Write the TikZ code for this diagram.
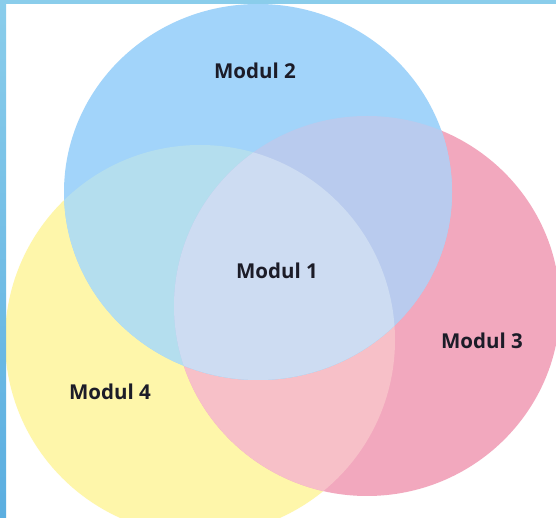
\documentclass[tikz,border=0pt]{standalone}
\usepackage{fontspec}
\setmainfont{Open Sans}
\definecolor{cblue}{HTML}{A2D4FA}
\definecolor{cyellow}{HTML}{FEF6AA}
\definecolor{cpink}{HTML}{F2A8BE}
\definecolor{cby}{HTML}{B4DEEE}
\definecolor{cbp}{HTML}{B9CBEE}
\definecolor{cyp}{HTML}{F7C0C8}
\definecolor{call}{HTML}{CDDCF2}
\definecolor{ctext}{HTML}{1C1C28}
\definecolor{bordtop}{HTML}{8ACDEB}
\definecolor{bordbot}{HTML}{5BAEE0}
\tikzset{
  lbl/.style={font=\fontsize{20.5}{22}\selectfont\bfseries, text=ctext, inner sep=0pt},
}
\def\blueE{(258,326) ellipse [x radius=194, y radius=188]}
\def\pinkE{(367,212) ellipse [x radius=193, y radius=190]}
\def\yellowE{(200,178) ellipse [x radius=195, y radius=195]}
\begin{document}
\begin{tikzpicture}[x=1pt,y=1pt]
\useasboundingbox (0,0) rectangle (556,518);
\begin{scope}
\clip (0,0) rectangle (556,518);
\fill[white] (0,0) rectangle (556,518);
% single circles
\fill[cyellow] \yellowE;
\fill[cpink] \pinkE;
\begin{scope}\clip \yellowE; \fill[cyp] \pinkE; \end{scope}
\fill[cblue] \blueE;
\begin{scope}\clip \blueE; \fill[cby] \yellowE; \end{scope}
\begin{scope}\clip \blueE; \fill[cbp] \pinkE; \end{scope}
\begin{scope}\clip \blueE; \clip \yellowE; \fill[call] \pinkE; \end{scope}
% frame strips
\shade[top color=bordtop, bottom color=bordbot] (0,0) rectangle (6,518);
\fill[bordtop] (0,514) rectangle (556,518);
\end{scope}
\node[lbl] (m2) at (255,447) {Modul 2};
\node[lbl] (m1) at (277,247) {Modul 1};
\node[lbl] (m3) at (482,177) {Modul 3};
\node[lbl] (m4) at (110,126) {Modul 4};
\end{tikzpicture}
\end{document}
